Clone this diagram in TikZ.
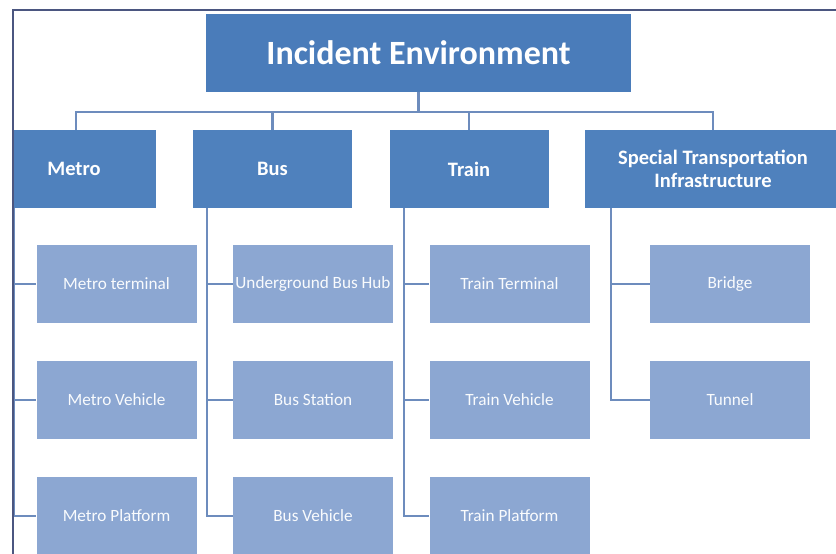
\documentclass[tikz,border=0pt]{standalone}
\usepackage{fontspec}
\setmainfont{Carlito}
\usetikzlibrary{calc}

\begin{document}
\begin{tikzpicture}[x=1pt,y=-1pt]
      \definecolor{topcolor}{HTML}{4A7CBA}
      \definecolor{midcolor}{HTML}{4F81BD}
      \definecolor{leafcolor}{HTML}{8CA7D2}
      \definecolor{linecolor}{HTML}{6D8CBD}
      \definecolor{framecolor}{HTML}{4B5680}
      \tikzset{topbox/.style={fill=topcolor,text=white,minimum width=425,minimum height=78,
          inner sep=0,font=\fontsize{34}{36}\selectfont\bfseries},
        midbox/.style={fill=midcolor,text=white,minimum width=159,minimum height=78,
          inner sep=0,align=center,font=\fontsize{20.5}{23}\selectfont\bfseries},
        leafbox/.style={fill=leafcolor,text=white!95!leafcolor,minimum width=160,minimum height=78,
          inner sep=0,font=\fontsize{17.2}{19}\selectfont},
        link/.style={draw=linecolor,line width=2.2}}

      \useasboundingbox (0,0) rectangle (836,554);
      \fill[white] (0,0) rectangle (836,554);

      \begin{scope}
      \clip (13,10) rectangle (836,554);

      % top level
      \node[topbox] (top) at (418.5,53) {Incident Environment};

      % transport groups
      \node[midbox] (metro) at (76,169) {\hspace*{-4pt}Metro};
      \node[midbox] (bus) at (272.5,169) {Bus};
      \node[midbox] (train) at (469,169) {Train};
      \node[midbox,minimum width=256] (special) at (713,169)
          {Special Transportation\\Infrastructure};

      % places
      \node[leafbox] (mterm) at (116.5,284) {Metro terminal};
      \node[leafbox] (mveh) at (116.5,400) {Metro Vehicle};
      \node[leafbox] (mplat) at (116.5,516) {Metro Platform};
      \node[leafbox] (bhub) at (313,284) {Underground Bus Hub};
      \node[leafbox] (bstat) at (313,400) {Bus Station};
      \node[leafbox] (bveh) at (313,516) {Bus Vehicle};
      \node[leafbox] (tterm) at (509.5,284) {Train Terminal};
      \node[leafbox] (tveh) at (509.5,400) {Train Vehicle};
      \node[leafbox] (tplat) at (509.5,516) {Train Platform};
      \node[leafbox] (bridge) at (730,284) {Bridge};
      \node[leafbox] (tunnel) at (730,400) {Tunnel};

      % links from the top
      \foreach \g in {metro,bus,train,special}
        \draw[link] (top.south) -- ++(0,20) -| (\g.north);

      % trunks below each group
      \coordinate (mtrunk) at ($(metro.south west)+(18,0)$);
      \coordinate (btrunk) at ($(bus.south west)+(14,0)$);
      \coordinate (ttrunk) at ($(train.south west)+(14.5,0)$);
      \coordinate (strunk) at ($(special.south west)+(26,0)$);
      \foreach \t/\leaf in {mtrunk/mterm,mtrunk/mveh,mtrunk/mplat,
          btrunk/bhub,btrunk/bstat,btrunk/bveh,
          ttrunk/tterm,ttrunk/tveh,ttrunk/tplat,
          strunk/bridge,strunk/tunnel}
        \draw[link] (\t) |- (\leaf.west);
      \end{scope}

      % frame
      \draw[framecolor,line width=2] (13,560) -- (13,10) -- (840,10);
\end{tikzpicture}
\end{document}
